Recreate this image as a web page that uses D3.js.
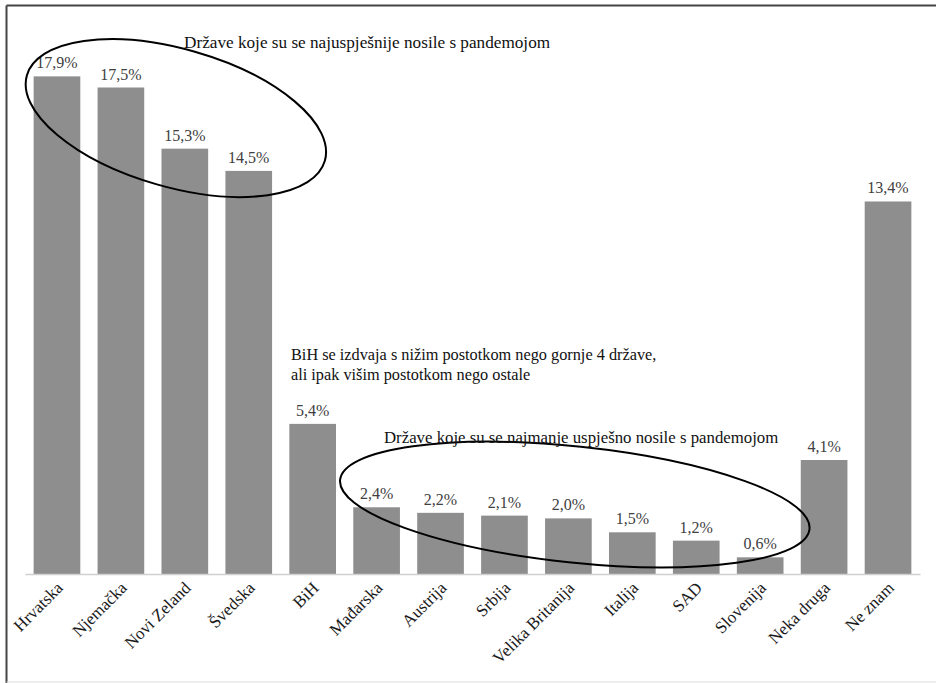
<!DOCTYPE html>
<html>
<head>
<meta charset="utf-8">
<script src="https://cdn.jsdelivr.net/npm/d3@7"></script>
<style>
html,body{margin:0;padding:0;background:#fff;}
svg{display:block;}
text{font-family:"Liberation Serif","Times New Roman",serif;}
</style>
</head>
<body>
<svg id="chart" width="936" height="683"></svg>
<script>
const categories = ["Hrvatska","Njemačka","Novi Zeland","Švedska","BiH","Mađarska","Austrija","Srbija","Velika Britanija","Italija","SAD","Slovenija","Neka druga","Ne znam"];
const values = [17.9,17.5,15.3,14.5,5.4,2.4,2.2,2.1,2.0,1.5,1.2,0.6,4.1,13.4];
const valueLabels = ["17,9%","17,5%","15,3%","14,5%","5,4%","2,4%","2,2%","2,1%","2,0%","1,5%","1,2%","0,6%","4,1%","13,4%"];
const yDomain = [0, 20];
const annotationTexts = [
  ["Države koje su se najuspješnije nosile s pandemojom"],
  ["BiH se izdvaja s nižim postotkom nego gornje 4 države,", "ali ipak višim postotkom nego ostale"],
  ["Države koje su se najmanje uspješno nosile s pandemojom"]
];

(function(){
const svg = d3.select("#chart");
const W = 936, H = 683;
const pLeft = 25, pRight = 920, pTop = 18, pBottom = 574;

const x = d3.scaleBand().domain(categories).range([pLeft, pRight]).paddingInner(0.27).paddingOuter(0.135);
const y = d3.scaleLinear().domain(yDomain).range([pBottom, pTop]);
const step = x.step();
const bx = i => pLeft + i * step; // fractional band position

// frame
svg.append("line").attr("x1",6.5).attr("y1",5.5).attr("x2",W).attr("y2",5.5).attr("stroke","#444").attr("stroke-width",2);
svg.append("line").attr("x1",6.5).attr("y1",5.5).attr("x2",6.5).attr("y2",H).attr("stroke","#444").attr("stroke-width",2);
svg.append("line").attr("x1",6.5).attr("y1",682).attr("x2",W).attr("y2",682).attr("stroke","#dddddd").attr("stroke-width",1);

// bars
const data = categories.map((c,i)=>({c, v: values[i], l: valueLabels[i]}));
svg.append("g").selectAll("rect").data(data).join("rect")
  .attr("x", d => x(d.c)).attr("width", x.bandwidth())
  .attr("y", d => y(d.v)).attr("height", d => y(0) - y(d.v))
  .attr("fill", "#8e8e8e");

// axis line
const xAxis = d3.axisBottom(x).tickSize(0).tickSizeOuter(0).tickFormat("");
const gx = svg.append("g").attr("transform", `translate(0,${pBottom})`).call(xAxis);
gx.select(".domain").attr("stroke", "#d0d0d0").attr("stroke-width", 1.5);

// category labels
svg.append("g").selectAll("text").data(data).join("text")
  .attr("transform", d => `translate(${x(d.c) + x.bandwidth()/2 + 7},${pBottom + 15}) rotate(-45)`)
  .attr("text-anchor", "end")
  .attr("font-size", 17)
  .attr("fill", "#1a1a1a")
  .text(d => d.c);

// value labels
svg.append("g").selectAll("text").data(data).join("text")
  .attr("x", d => x(d.c) + x.bandwidth()/2)
  .attr("y", d => y(d.v) - 8)
  .attr("text-anchor", "middle")
  .attr("font-size", 16)
  .attr("fill", "#404040")
  .text(d => d.l);

// ellipses
const ellipses = [
  {cx: bx(2.36), cy: y(16.4), rx: 155, ry: 69, rot: 16},
  {cx: bx(8.6), cy: y(2.5), rx: 236, ry: 58, rot: 6}
];
svg.append("g").selectAll("ellipse").data(ellipses).join("ellipse")
  .attr("transform", d => `translate(${d.cx},${d.cy}) rotate(${d.rot})`)
  .attr("rx", d => d.rx).attr("ry", d => d.ry)
  .attr("fill", "none").attr("stroke", "#000").attr("stroke-width", 2);

// annotation texts
const annPos = [
  {x: 184, y: 48, fs: 17.2},
  {x: 291, y: 360, fs: 16.3},
  {x: 384, y: 443, fs: 16.8}
];
annotationTexts.forEach((lines, k) => {
  const t = svg.append("text").attr("x", annPos[k].x).attr("y", annPos[k].y)
    .attr("font-size", annPos[k].fs).attr("fill", "#111");
  lines.forEach((ln, j) => t.append("tspan").attr("x", annPos[k].x).attr("dy", j === 0 ? 0 : 20).text(ln));
});
})();
</script>
</body>
</html>
